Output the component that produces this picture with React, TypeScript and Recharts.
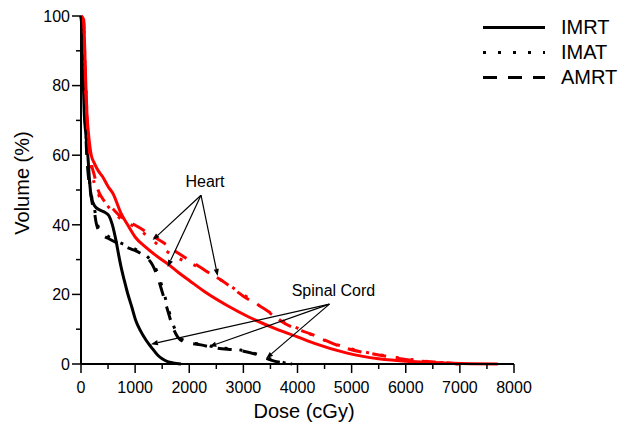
import { Label, Legend, Line, LineChart, ReferenceLine, XAxis, YAxis } from 'recharts'

const FONT = '"Liberation Sans", Arial, sans-serif'
const RED = '#ff0000'
const BLACK = '#000000'

const doseTicks = [0, 500, 1000, 1500, 2000, 2500, 3000, 3500, 4000, 4500, 5000, 5500, 6000, 6500, 7000, 7500, 8000]
const volumeTicks = [0, 10, 20, 30, 40, 50, 60, 70, 80, 90, 100]

// spinal cord (black)
const cordImrtDose = [0, 20, 40, 60, 90, 126, 157, 188, 250, 340, 450, 520, 580, 645, 700, 740, 800, 860, 940, 1010, 1100, 1200, 1300, 1415, 1500, 1600, 1700, 1850]
const cordImrtVolume = [100, 95, 82, 72, 66, 60, 52.8, 48.2, 45.5, 44.3, 43.5, 42.5, 40, 35.6, 31, 27.9, 24, 20.4, 16.3, 12.6, 9.5, 6.9, 4.8, 2.6, 1.5, 0.7, 0.3, 0]

const cordImatDose = [0, 30, 60, 80, 100, 130, 170, 210, 250, 290, 330, 420, 520, 700, 880, 1000, 1120, 1230, 1350, 1440, 1530, 1620, 1710, 1800, 1950, 2250, 2550, 2950, 3300, 3550, 3750, 3950]
const cordImatVolume = [100, 96, 82, 72, 64, 57, 51, 47, 44.5, 41, 39, 37.5, 36.5, 35, 33.8, 33, 32, 30.8, 28.5, 25, 20.5, 15.5, 11, 8, 6.5, 5.6, 4.7, 4, 2.6, 1.2, 0.4, 0]

const cordAmrtDose = [0, 30, 60, 80, 100, 130, 170, 210, 244, 281, 320, 400, 490, 675, 850, 984, 1100, 1200, 1323, 1415, 1508, 1600, 1693, 1785, 1909, 2216, 2525, 2895, 3265, 3511, 3700, 3900]
const cordAmrtVolume = [100, 95, 80, 70, 62, 55, 50, 46, 44, 40.5, 38.5, 37, 36.2, 34.7, 33.5, 32.7, 31.8, 30.8, 28.4, 25, 20.3, 15.5, 10.7, 7.8, 6.4, 5.5, 4.5, 4, 2.6, 1.1, 0.4, 0]

// heart (red)
const heartImrtDose = [0, 50, 70, 90, 110, 140, 190, 250, 320, 400, 500, 590, 740, 850, 1000, 1200, 1400, 1600, 1800, 2000, 2300, 2700, 3100, 3600, 4000, 4300, 4900, 5500, 6100, 6700, 7200, 7700]
const heartImrtVolume = [100, 99, 90, 80, 72, 66, 60, 57.6, 55.5, 53.8, 51, 49, 43.3, 40.3, 36.5, 33.5, 31, 28.8, 26.3, 24, 20.6, 16.8, 13.5, 10.1, 7.8, 6, 3.2, 1.5, 0.7, 0.3, 0.1, 0]

const heartImatDose = [0, 50, 70, 90, 120, 150, 190, 244, 330, 430, 600, 800, 1045, 1300, 1600, 1800, 2094, 2464, 2800, 3200, 3600, 4000, 4500, 5000, 5500, 6000, 6500, 7000]
const heartImatVolume = [100, 98, 88, 79, 69, 62, 57, 52, 48.5, 46.6, 43.5, 41, 39, 35.8, 32.2, 30.4, 28.4, 25.3, 22, 17.8, 13.5, 10.3, 6.8, 4.3, 2.7, 1.5, 0.6, 0]

const heartAmrtDose = [0, 50, 70, 90, 120, 150, 190, 250, 305, 400, 550, 740, 900, 1100, 1300, 1540, 1800, 2100, 2350, 2600, 3000, 3500, 3700, 4300, 4900, 5500, 6100, 6700, 7000]
const heartAmrtVolume = [100, 98, 88, 78, 68, 62, 57.7, 54, 50.5, 47.5, 45.2, 42.3, 40.8, 39, 37, 34.7, 31.8, 28.9, 26.3, 24, 19.5, 14.7, 12.3, 8.3, 4.5, 2.6, 1.1, 0.4, 0]

// annotation arrows: apex of the fan and the tips on the curves
const heartApex = [2217, 48.5]
const heartTips = [[1323, 35.6], [1600, 27.9], [2525, 25.3]]
const cordApex = [4590, 17.2]
const cordTips = [[1292, 5.7], [2371, 5.0], [3420, 1.6]]

const legendNames = ['IMRT', 'IMAT', 'AMRT']
const legendDashes = [undefined, '3 12', '14 11']

const toPoints = (dose: number[], volume: number[]) => dose.map((x, i) => ({ x, y: volume[i] }))

function DoseTick({ x, y, payload }: any) {
  const major = payload.value % 1000 === 0
  return (
    <g>
      <line x1={x} y1={y} x2={x} y2={y + (major ? 9 : 5)} stroke={BLACK} strokeWidth={1.5} />
      {major && (
        <text x={x} y={y + 28.5} textAnchor="middle" fontSize={16} fontFamily={FONT} fill={BLACK}>
          {payload.value}
        </text>
      )}
    </g>
  )
}

function VolumeTick({ x, y, payload }: any) {
  const major = payload.value % 20 === 0
  return (
    <g>
      <line x1={x - (major ? 9 : 5)} y1={y} x2={x} y2={y} stroke={BLACK} strokeWidth={1.5} />
      {major && (
        <text x={x - 11} y={y + 5.8} textAnchor="end" fontSize={16} fontFamily={FONT} fill={BLACK}>
          {payload.value}
        </text>
      )}
    </g>
  )
}

function Arrow({ x1, y1, x2, y2, text }: any) {
  const dx = x2 - x1
  const dy = y2 - y1
  const len = Math.hypot(dx, dy) || 1
  const ux = dx / len
  const uy = dy / len
  const bx = x2 - ux * 7
  const by = y2 - uy * 7
  const head = `${x2},${y2} ${bx - uy * 2.6},${by + ux * 2.6} ${bx + uy * 2.6},${by - ux * 2.6}`
  return (
    <g>
      <line x1={x1} y1={y1} x2={bx} y2={by} stroke={BLACK} strokeWidth={1.2} />
      <polygon points={head} fill={BLACK} />
      {text && (
        <text x={x1 + 4} y={y1 - 8} textAnchor="middle" fontSize={16} fontFamily={FONT} fill={BLACK}>
          {text}
        </text>
      )}
    </g>
  )
}

function LegendBox() {
  return (
    <div style={{ fontFamily: FONT }}>
      {legendNames.map((name, i) => (
        <div key={name} style={{ display: 'flex', alignItems: 'center', height: 25 }}>
          <svg width={62} height={25}>
            <line x1={0} y1={12.5} x2={62} y2={12.5} stroke={BLACK} strokeWidth={3} strokeDasharray={legendDashes[i]} />
          </svg>
          <span style={{ marginLeft: 16, fontSize: 20, lineHeight: '25px', color: BLACK }}>{name}</span>
        </div>
      ))}
    </div>
  )
}

export default function App() {
  return (
    <div style={{ position: 'absolute', left: 0, top: 0, background: '#fff' }}>
      <LineChart width={627} height={429} margin={{ top: 16, right: 113, bottom: 0, left: 0 }}>
        <XAxis
          type="number"
          dataKey="x"
          domain={[0, 8000]}
          ticks={doseTicks}
          interval={0}
          height={65}
          tickSize={0}
          tickMargin={0}
          tickLine={false}
          tick={<DoseTick />}
          axisLine={{ stroke: BLACK, strokeWidth: 2 }}
        >
          <Label
            content={() => (
              <text x={304} y={417.5} textAnchor="middle" fontSize={20} fontFamily={FONT} fill={BLACK}>
                Dose (cGy)
              </text>
            )}
          />
        </XAxis>
        <YAxis
          type="number"
          domain={[0, 100]}
          ticks={volumeTicks}
          interval={0}
          width={81}
          tickSize={0}
          tickMargin={0}
          tickLine={false}
          tick={<VolumeTick />}
          axisLine={{ stroke: BLACK, strokeWidth: 2 }}
        >
          <Label
            content={() => (
              <text
                x={22}
                y={183}
                transform="rotate(-90 22 183)"
                textAnchor="middle"
                dominantBaseline="central"
                fontSize={20}
                fontFamily={FONT}
                fill={BLACK}
              >
                Volume (%)
              </text>
            )}
          />
        </YAxis>
        <Legend
          layout="vertical"
          align="center"
          verticalAlign="middle"
          wrapperStyle={{ left: 483, top: 14.5, width: 140 }}
          content={() => <LegendBox />}
        />

        <Line data={toPoints(cordImrtDose, cordImrtVolume)} dataKey="y" type="monotone" stroke={BLACK} strokeWidth={3} dot={false} isAnimationActive={false} />
        <Line data={toPoints(cordImatDose, cordImatVolume)} dataKey="y" type="monotone" stroke={BLACK} strokeWidth={3} strokeDasharray="3 12" dot={false} isAnimationActive={false} />
        <Line data={toPoints(cordAmrtDose, cordAmrtVolume)} dataKey="y" type="monotone" stroke={BLACK} strokeWidth={3} strokeDasharray="14 11" dot={false} isAnimationActive={false} />
        <Line data={toPoints(heartImrtDose, heartImrtVolume)} dataKey="y" type="monotone" stroke={RED} strokeWidth={3} dot={false} isAnimationActive={false} />
        <Line data={toPoints(heartImatDose, heartImatVolume)} dataKey="y" type="monotone" stroke={RED} strokeWidth={3} strokeDasharray="3 12" dot={false} isAnimationActive={false} />
        <Line data={toPoints(heartAmrtDose, heartAmrtVolume)} dataKey="y" type="monotone" stroke={RED} strokeWidth={3} strokeDasharray="14 11" dot={false} isAnimationActive={false} />

        {heartTips.map((tip, i) => (
          <ReferenceLine
            key={`heart-${i}`}
            segment={[{ x: heartApex[0], y: heartApex[1] }, { x: tip[0], y: tip[1] }]}
            shape={(p: any) => <Arrow {...p} text={i === 0 ? 'Heart' : undefined} />}
          />
        ))}
        {cordTips.map((tip, i) => (
          <ReferenceLine
            key={`cord-${i}`}
            segment={[{ x: cordApex[0], y: cordApex[1] }, { x: tip[0], y: tip[1] }]}
            shape={(p: any) => <Arrow {...p} text={i === 0 ? 'Spinal Cord' : undefined} />}
          />
        ))}
      </LineChart>
    </div>
  )
}
